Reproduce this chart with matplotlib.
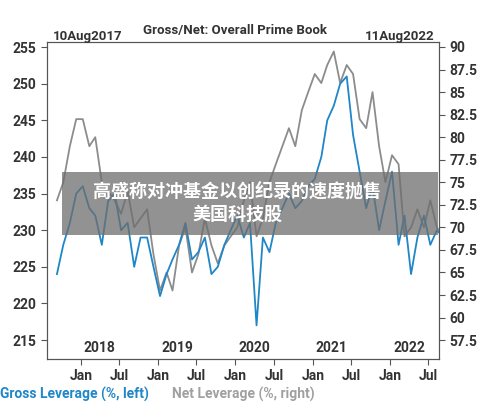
import matplotlib
matplotlib.use("Agg")
import matplotlib.pyplot as plt
import matplotlib.dates as mdates
import pandas as pd
from matplotlib.patches import Rectangle

plt.rcParams['font.family'] = ['Roboto', 'Noto Sans CJK SC', 'DejaVu Sans']

dates = pd.date_range('2017-08-10', periods=61, freq='MS') + pd.Timedelta(days=9)
gross = [224, 228, 231, 235, 236,
         233, 232, 228, 234, 235, 230, 231, 225, 229, 229, 225, 221,
         224, 226, 228, 231, 226, 227, 229, 224, 225, 228, 230, 232,
         229, 231, 217, 229, 227, 231, 233, 235, 233, 234, 236, 237,
         240, 245, 247, 250, 251, 243, 238, 233, 236, 230, 234, 238,
         228, 232, 224, 229, 232, 228, 230, 229]
net = [73, 75, 79, 82, 82,
       79, 80, 75, 74, 73, 71.5, 74, 70, 71, 72, 67, 63,
       65, 63, 68, 70, 65, 67, 71, 68, 66, 68, 69, 70,
       73, 75, 69, 71, 75, 77, 79, 81, 79, 83, 85, 87,
       86, 88, 89.5, 86, 88, 87, 82, 81, 85, 79, 75, 78,
       77, 69, 70, 72, 70, 73, 70, 69]
years = ['2018', '2019', '2020', '2021', '2022']
left_ticks = [215, 220, 225, 230, 235, 240, 245, 250, 255]
right_ticks = [57.5, 60, 62.5, 65, 67.5, 70, 72.5, 75, 77.5, 80, 82.5, 85, 87.5, 90]

blue = '#1f86c8'
grey = '#8c8c8c'
tc = '#333333'

fig = plt.figure(figsize=(5, 4.08), dpi=100)
ax = fig.add_axes([0.094, 0.12, 0.784, 0.777])
ax2 = ax.twinx()
ax.plot(dates, gross, color=blue, lw=1.3, zorder=3)
ax2.plot(dates, net, color=grey, lw=1.3, zorder=2)
ax.set_zorder(ax2.get_zorder() + 1)
ax.patch.set_visible(False)

ax.set_ylim(212.4, 255.7)
ax2.set_ylim(55.4, 90.55)
ax.set_xlim(pd.Timestamp('2017-07-25'), pd.Timestamp('2022-08-20'))
ax.set_yticks(left_ticks)
ax2.set_yticks(right_ticks)
ax2.set_yticklabels([f'{v:g}' for v in right_ticks])
for a in (ax, ax2):
    for s in a.spines.values():
        s.set_color('#555555')
    a.tick_params(colors='#555555', labelcolor=tc, labelsize=10, length=4)
ax.xaxis.set_major_locator(mdates.MonthLocator(bymonth=[1, 7]))
ax.xaxis.set_major_formatter(mdates.DateFormatter('%b'))
for lbl in ax.get_xticklabels() + ax.get_yticklabels() + ax2.get_yticklabels():
    lbl.set_fontweight('bold')
for y in years:
    ax.text(pd.Timestamp(f'{y}-04-01'), 212.9, y, ha='center', va='bottom',
            fontsize=10, fontweight='bold', color=tc)

fig.text(0.105, 0.91, '10Aug2017', fontsize=9.5, fontweight='bold', color=tc, va='center')
fig.text(0.47, 0.925, 'Gross/Net: Overall Prime Book', fontsize=9.5, fontweight='bold',
         color=tc, ha='center', va='center')
fig.text(0.87, 0.91, '11Aug2022', fontsize=9.5, fontweight='bold', color=tc, va='center', ha='right')
fig.text(0.0, 0.022, 'Gross Leverage (%, left)', fontsize=10, fontweight='bold', color=blue)
fig.text(0.345, 0.022, 'Net Leverage (%, right)', fontsize=10, fontweight='bold', color='#a0a0a0')

fig.patches.append(Rectangle((0.124, 0.424), 0.752, 0.154, transform=fig.transFigure,
                             facecolor='#6e6e6e', alpha=0.75, zorder=10))
fig.text(0.475, 0.503, '高盛称对冲基金以创纪录的速度抛售\n美国科技股', ha='center', va='center',
         fontsize=13, color='white', fontweight='bold', family=['Noto Sans CJK SC'],
         zorder=11, linespacing=1.25)

fig.savefig('out.png', dpi=100)
